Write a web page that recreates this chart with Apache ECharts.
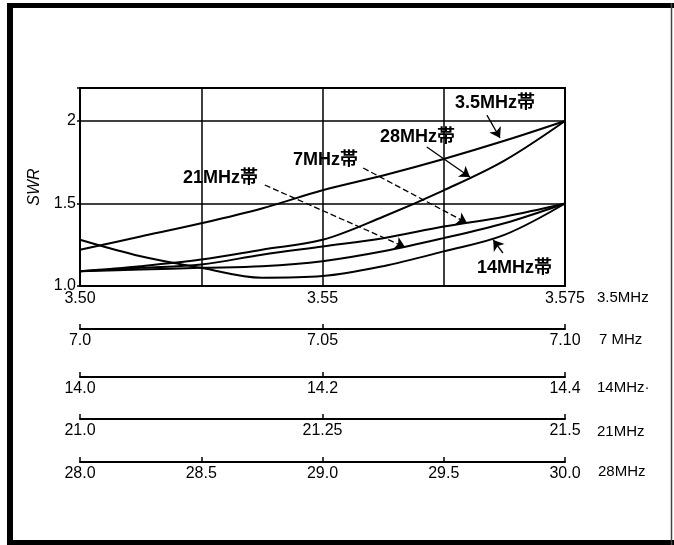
<!DOCTYPE html>
<html><head><meta charset="utf-8">
<script src="https://cdn.jsdelivr.net/npm/echarts@6/dist/echarts.min.js"></script>
<style>html,body{margin:0;padding:0;background:#fff}#c{width:674px;height:545px}</style>
</head><body><div id="c"></div>
<script>
// normalized position across each band (0 = band start, 1 = band end)
const bandPos = [0, 0.125, 0.25, 0.375, 0.5, 0.625, 0.75, 0.875, 1];
const swr3_5 = [1.22, 1.30, 1.38, 1.47, 1.58, 1.67, 1.77, 1.88, 2.0];
const swr28  = [1.09, 1.12, 1.16, 1.22, 1.28, 1.42, 1.58, 1.76, 2.0];
const swr7   = [1.09, 1.11, 1.13, 1.19, 1.24, 1.29, 1.36, 1.42, 1.5];
const swr21  = [1.09, 1.10, 1.11, 1.12, 1.15, 1.21, 1.29, 1.38, 1.5];
const swr14  = [1.28, 1.18, 1.11, 1.05, 1.06, 1.12, 1.21, 1.31, 1.5];

const ticks3_5 = ['3.50', '', '3.55', '', '3.575'];
const ticks7   = ['7.0', '7.05', '7.10'];
const ticks14  = ['14.0', '14.2', '14.4'];
const ticks21  = ['21.0', '21.25', '21.5'];
const ticks28  = ['28.0', '28.5', '29.0', '29.5', '30.0'];
const bandNames = ['3.5MHz', '7 MHz', '14MHz·', '21MHz', '28MHz'];
const curveNames = ['3.5MHz帯', '28MHz帯', '7MHz帯', '21MHz帯', '14MHz帯'];
const yTickLabels = {1: '1.0', 1.5: '1.5', 2: '2'};

const FONT = "'Liberation Sans','Noto Sans CJK JP',sans-serif";
const chart = echarts.init(document.getElementById('c'), null, {renderer: 'canvas'});

function bandAxis(ticks, interval, offset, isMain) {
  return {
    type: 'value', min: 0, max: 1, interval: interval, position: 'bottom', offset: offset,
    axisLine: {show: true, onZero: false, lineStyle: {color: '#000', width: 2}},
    axisTick: {show: !isMain, inside: true, length: 5, lineStyle: {color: '#000', width: 1.5}},
    splitLine: {show: !!isMain, lineStyle: {color: '#000', width: 1.5}},
    axisLabel: {
      show: true, margin: isMain ? 5 : 4, color: '#000', fontSize: 16, fontFamily: FONT,
      showMinLabel: true, showMaxLabel: true,
      formatter: v => ticks[Math.round(v / interval)] || ''
    }
  };
}

function curve(name, arr, arrow, dashed) {
  return {
    name: name, type: 'line', smooth: 0.35, symbol: 'none', xAxisIndex: 0,
    data: bandPos.map((x, i) => [x, arr[i]]),
    lineStyle: {color: '#000', width: 2},
    markLine: {
      silent: true, symbol: ['none', 'arrow'], symbolSize: 10,
      label: {show: false},
      lineStyle: {color: '#000', width: 1.3, type: dashed ? [6, 3] : 'solid'},
      data: [[{coord: arrow[0]}, {coord: arrow[1]}]]
    }
  };
}

function txt(x, y, s, size, bold) {
  return {type: 'text', style: {x: x, y: y, text: s, fill: '#000', font: (bold ? 'bold ' : '') + size + 'px ' + FONT, align: 'left', verticalAlign: 'middle'}};
}

chart.setOption({
  animation: false,
  backgroundColor: '#fff',
  grid: {left: 80, top: 88, right: 109, bottom: 259, show: true, borderColor: '#000', borderWidth: 2, backgroundColor: 'transparent'},
  xAxis: [
    bandAxis(ticks3_5, 0.25, 0, true),
    bandAxis(ticks7, 0.5, 43),
    bandAxis(ticks14, 0.5, 91),
    bandAxis(ticks21, 0.5, 133),
    bandAxis(ticks28, 0.25, 176)
  ],
  yAxis: {
    type: 'value', min: 1, max: 2.2, interval: 0.5,
    name: 'SWR', nameLocation: 'middle', nameGap: 30, nameRotate: 90,
    nameTextStyle: {color: '#000', fontSize: 16, fontStyle: 'italic', fontFamily: FONT},
    axisLine: {show: true, lineStyle: {color: '#000', width: 2}},
    axisTick: {show: true, length: 3, lineStyle: {color: '#000', width: 1.5}},
    splitLine: {show: true, lineStyle: {color: '#000', width: 1.5}},
    axisLabel: {margin: 4, color: '#000', fontSize: 16, fontFamily: FONT,
      formatter: v => yTickLabels[Math.round(v * 10) / 10] || ''}
  },
  series: [
    curve(curveNames[0], swr3_5, [[0.839, 2.036], [0.866, 1.897]], false),
    curve(curveNames[1], swr28, [[0.715, 1.842], [0.804, 1.661]], false),
    curve(curveNames[2], swr7, [[0.584, 1.715], [0.798, 1.382]], true),
    curve(curveNames[3], swr21, [[0.381, 1.612], [0.670, 1.236]], true),
    curve(curveNames[4], swr14, [[0.872, 1.20], [0.852, 1.279]], false)
  ],
  graphic: [
    {type: 'line', shape: {x1: 10, y1: 3, x2: 10, y2: 545}, style: {stroke: '#000', lineWidth: 6}},
    {type: 'line', shape: {x1: 7, y1: 5.5, x2: 674, y2: 5.5}, style: {stroke: '#000', lineWidth: 5}},
    {type: 'line', shape: {x1: 7, y1: 542.5, x2: 674, y2: 542.5}, style: {stroke: '#000', lineWidth: 5}},
    {type: 'line', shape: {x1: 671.5, y1: 3, x2: 671.5, y2: 545}, style: {stroke: '#444', lineWidth: 1.5}},
    txt(455, 103, curveNames[0], 18, true),
    txt(380, 137, curveNames[1], 18, true),
    txt(293, 160, curveNames[2], 18, true),
    txt(183, 178, curveNames[3], 18, true),
    txt(477, 268, curveNames[4], 18, true),
    txt(597, 298, bandNames[0], 15, false),
    txt(599, 340, bandNames[1], 15, false),
    txt(597, 388, bandNames[2], 15, false),
    txt(597, 432, bandNames[3], 15, false),
    txt(598, 472, bandNames[4], 15, false)
  ]
});
</script></body></html>
